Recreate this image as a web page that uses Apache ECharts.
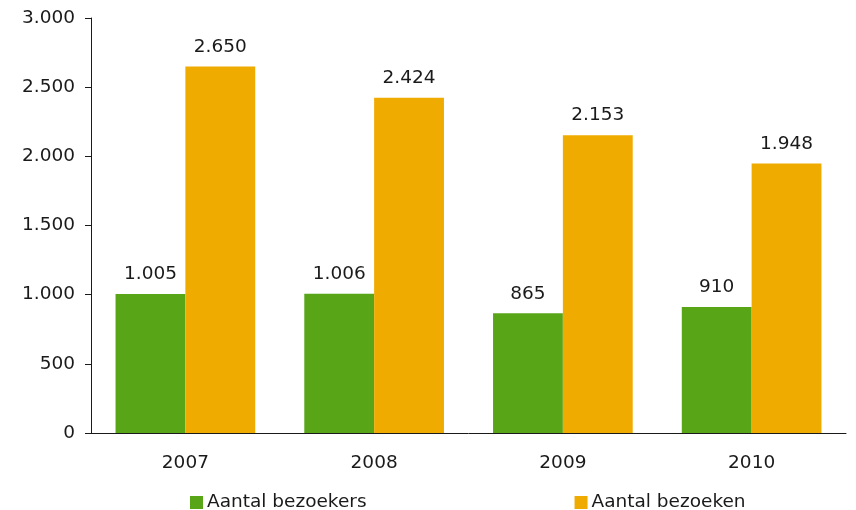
<!DOCTYPE html>
<html><head><meta charset="utf-8">
<script src="https://cdn.jsdelivr.net/npm/echarts@6/dist/echarts.min.js"></script>
<style>html,body{margin:0;padding:0;background:#fff}#c{width:856px;height:510px}</style>
</head><body><div id="c"></div>
<script>
const categories = ['2007','2008','2009','2010'];
const bezoekers = [1005, 1006, 865, 910];
const bezoeken = [2650, 2424, 2153, 1948];
const seriesNames = ['Aantal bezoekers','Aantal bezoeken'];
const fmt = v => String(v).replace(/\B(?=(\d{3})+(?!\d))/g, '.');
const font = 'DejaVu Sans';
const fs = 18.5;
const chart = echarts.init(document.getElementById('c'));
chart.setOption({
  animation:false,
  textStyle:{fontFamily:font},
  grid:{left:91,right:10,top:18,bottom:77},
  legend:{top:488,left:185,itemWidth:13,itemHeight:13,icon:'rect',itemGap:208,
    textStyle:{fontFamily:font,fontSize:fs,color:'#1a1a1a',padding:[0,0,0,-1]},data:seriesNames},
  xAxis:{type:'category',data:categories,
    axisLine:{lineStyle:{color:'#1a1a1a',width:1}},
    axisTick:{inside:true,length:6,lineStyle:{color:'#555'}},
    axisLabel:{fontFamily:font,fontSize:fs,color:'#1a1a1a',margin:21}},
  yAxis:{type:'value',min:0,max:3000,interval:500,splitLine:{show:false},
    axisLine:{show:true,lineStyle:{color:'#1a1a1a',width:1}},
    axisTick:{show:true,length:6,lineStyle:{color:'#1a1a1a'}},
    axisLabel:{fontFamily:font,fontSize:fs,color:'#1a1a1a',margin:16,formatter:fmt}},
  series:[
    {name:seriesNames[0],type:'bar',data:bezoekers,barGap:'0%',barCategoryGap:'26%',
     itemStyle:{color:'#58A618'},
     label:{show:true,position:'top',distance:10,fontFamily:font,fontSize:fs,color:'#1a1a1a',formatter:p=>fmt(p.value)}},
    {name:seriesNames[1],type:'bar',data:bezoeken,barGap:'0%',barCategoryGap:'26%',
     itemStyle:{color:'#F0AB00'},
     label:{show:true,position:'top',distance:10,fontFamily:font,fontSize:fs,color:'#1a1a1a',formatter:p=>fmt(p.value)}}
  ]
});
</script></body></html>
